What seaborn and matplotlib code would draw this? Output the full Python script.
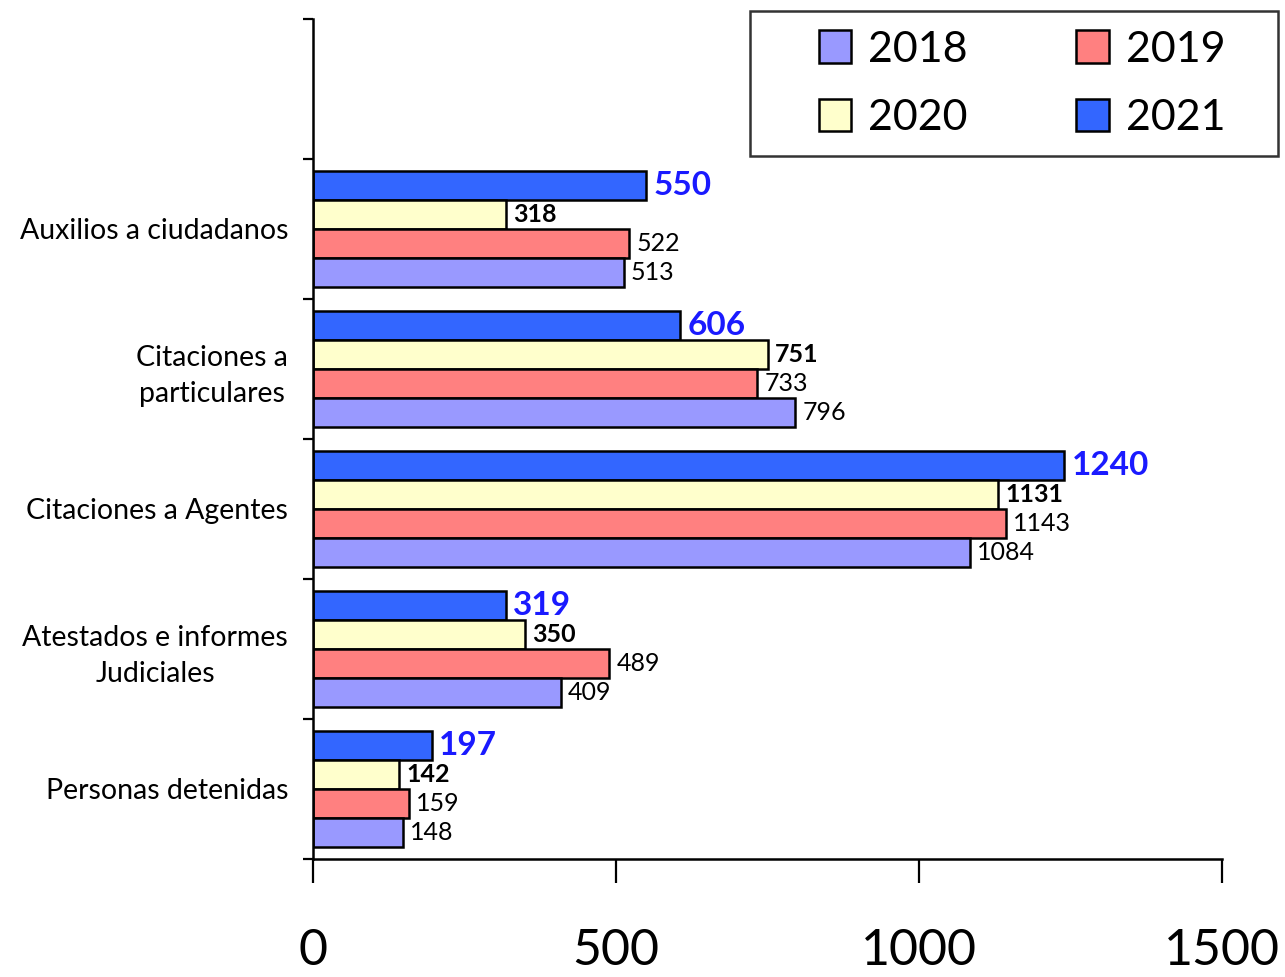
import matplotlib
matplotlib.use("Agg")
import matplotlib.pyplot as plt
import seaborn as sns
import pandas as pd
from matplotlib.patches import Patch, Rectangle
from matplotlib.legend_handler import HandlerPatch

categories = ["Auxilios a ciudadanos", "Citaciones a\nparticulares", "Citaciones a Agentes",
              "Atestados e informes\nJudiciales", "Personas detenidas"]
years = ["2018", "2019", "2020", "2021"]
v2018 = [513, 796, 1084, 409, 148]
v2019 = [522, 733, 1143, 489, 159]
v2020 = [318, 751, 1131, 350, 142]
v2021 = [550, 606, 1240, 319, 197]
xticks = [0, 500, 1000, 1500]

colors = {"2018": "#9999FF", "2019": "#FF8080", "2020": "#FFFFCC", "2021": "#3366FF"}

rows = []
for yr, vals in zip(years, [v2018, v2019, v2020, v2021]):
    for c, v in zip(categories, vals):
        rows.append({"cat": c, "year": yr, "value": v})
df = pd.DataFrame(rows)

sns.set_style("white")
plt.rcParams["font.family"] = ["Lato", "DejaVu Sans"]
plt.rcParams["text.color"] = "black"
plt.rcParams["xtick.color"] = "black"
plt.rcParams["ytick.color"] = "black"

fig = plt.figure(figsize=(12.85, 9.77), dpi=100)
ax = fig.add_axes([0.2436, 0.1208, 0.7074, 0.8598])

hue_order = ["2021", "2020", "2019", "2018"]
sns.barplot(data=df, y="cat", x="value", hue="year", hue_order=hue_order, order=categories,
            palette=colors, saturation=1, orient="h", width=0.83, edgecolor="black",
            linewidth=1.8, legend=False, ax=ax)

label_styles = {
    "2021": dict(fontsize=24, fontweight="bold", color="#1a1aff"),
    "2020": dict(fontsize=18, fontweight="bold", color="black"),
    "2019": dict(fontsize=18, color="black"),
    "2018": dict(fontsize=18, color="black"),
}
for cont, yr in zip(ax.containers, hue_order):
    ax.bar_label(cont, labels=[f"{int(b.get_width())}" for b in cont], padding=5, **label_styles[yr])

ax.set_xlim(0, 1500)
ax.set_ylim(4.5, -1.5)
ax.set_xticks(xticks)
ax.set_xticklabels([str(t) for t in xticks], fontsize=36)
ax.tick_params(axis="x", bottom=True, direction="out", length=17, width=1.6, pad=33, color="black")
ax.set_yticks(range(len(categories)))
ax.set_yticklabels(categories, fontsize=20.5, multialignment="center", linespacing=1.45)
ax.tick_params(axis="y", which="major", left=True, length=0, pad=18)
ax.set_yticks([i - 0.5 for i in range(-1, len(categories) + 1)], minor=True)
ax.tick_params(axis="y", which="minor", left=True, direction="out", length=7, width=1.6, color="black")
ax.set_xlabel("")
ax.set_ylabel("")

for s in ["top", "right"]:
    ax.spines[s].set_visible(False)
for s in ["left", "bottom"]:
    ax.spines[s].set_color("black")
    ax.spines[s].set_linewidth(1.8)


def square_right(legend, orig_handle, xdescent, ydescent, width, height, fontsize):
    side = height * 1.0
    return Rectangle((width - side - xdescent, -ydescent + (height - side) / 2), side, side)


handles = [Patch(facecolor=colors[y], edgecolor="black", linewidth=1.8, label=y + "   ")
           for y in ["2018", "2020", "2019", "2021"]]
leg = fig.legend(handles=handles, ncol=2, loc="upper right", bbox_to_anchor=(0.9945, 0.9887),
                 fontsize=31, frameon=True, fancybox=False, edgecolor="black",
                 handlelength=1.9, handleheight=0.78, handletextpad=0.4, columnspacing=0.6,
                 borderpad=0.45, labelspacing=0.7, borderaxespad=0,
                 handler_map={Patch: HandlerPatch(patch_func=square_right)})
leg.get_frame().set_linewidth(1.8)

fig.savefig("out.png", dpi=100, facecolor="white")
